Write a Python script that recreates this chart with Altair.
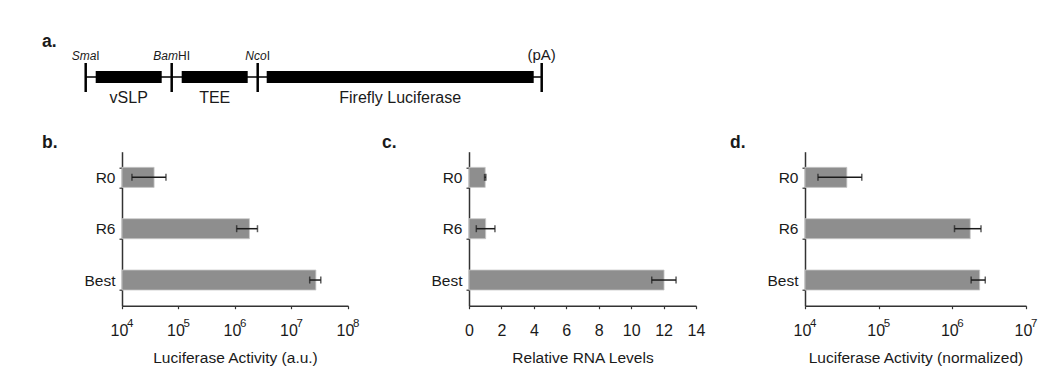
import altair as alt
import pandas as pd

FONT = "Liberation Sans"
INK = "#1a1a1a"
AXIS = "#333333"
BAR = "#8e8e8e"

# ---------------- data ----------------
categories = ["R0", "R6", "Best"]

lucif_mean = [3.7e4, 1.8e6, 2.7e7]
lucif_lo = [1.5e4, 1.07e6, 2.1e7]
lucif_hi = [6.0e4, 2.5e6, 3.3e7]

rna_mean = [1.0, 1.03, 12.03]
rna_lo = [0.96, 0.45, 11.27]
rna_hi = [1.04, 1.6, 12.77]

norm_mean = [3.7e4, 1.75e6, 2.35e6]
norm_lo = [1.5e4, 1.07e6, 1.8e6]
norm_hi = [5.9e4, 2.45e6, 2.8e6]

log_ticks_b = [1e4, 1e5, 1e6, 1e7, 1e8]
log_exp_b = ["4", "5", "6", "7", "8"]
log_ticks_d = [1e4, 1e5, 1e6, 1e7]
log_exp_d = ["4", "5", "6", "7"]
lin_ticks_c = [0, 2, 4, 6, 8, 10, 12, 14]

panel_letters = ["a.", "b.", "c.", "d."]

site_italic = ["Sma", "Bam", "Nco", ""]
site_plain = ["I", "HI", "I", "(pA)"]
site_pos = [0, 86, 172, 456]
element_names = ["vSLP", "TEE", "Firefly Luciferase"]
element_start = [10, 96, 181]
element_end = [76, 162, 448]

# approximate Arial advance widths (per 1000 em) for label centring
W = {"S": 667, "m": 833, "a": 556, "B": 667, "N": 722, "c": 500, "o": 556,
     "I": 278, "H": 722, "(": 333, "p": 556, "A": 667, ")": 333}


def tw(s, fs):
    return sum(W.get(ch, 556) for ch in s) * fs / 1000.0


PH = 154

Y_AXIS = alt.Axis(tickBand="extent", tickSize=3, labelFontSize=15.5, labelPadding=4,
                  labelColor=INK, domainColor=AXIS, tickColor=AXIS,
                  domainWidth=1.5, tickWidth=1.2, labelFont=FONT, title=None)


def letter_layer(letter, dx, dy):
    return alt.Chart(pd.DataFrame({"t": [letter]})).mark_text(
        align="left", baseline="alphabetic", fontSize=17.5, fontWeight="bold",
        color=INK, font=FONT
    ).encode(x=alt.value(dx), y=alt.value(dy), text="t:N")


def panel(mean, lo, hi, scale, base_val, axis, letter, letter_dx, width,
          ticks=None, exps=None):
    df = pd.DataFrame({"cat": categories, "mean": mean, "lo": lo, "hi": hi})
    base = alt.Chart(df)
    yenc = alt.Y("cat:N", sort=categories, title=None,
                 scale=alt.Scale(paddingInner=0.61, paddingOuter=0.305), axis=Y_AXIS)
    bars = base.mark_bar(color=BAR, stroke="#c8c8c8", strokeWidth=0.8).encode(
        x=alt.X("mean:Q", scale=scale, axis=axis),
        x2=alt.datum(base_val),
        y=yenc,
    )
    rule = base.mark_rule(color=INK, strokeWidth=1.5).encode(
        x=alt.X("lo:Q", scale=scale, axis=axis), x2="hi:Q", y=yenc)
    t_lo = base.mark_tick(color=INK, size=7, thickness=1.5).encode(
        x=alt.X("lo:Q", scale=scale, axis=axis), y=yenc)
    t_hi = base.mark_tick(color=INK, size=7, thickness=1.5).encode(
        x=alt.X("hi:Q", scale=scale, axis=axis), y=yenc)
    layers = [bars, rule, t_lo, t_hi]
    if ticks is not None:
        tdf = pd.DataFrame({"v": ticks, "e": exps})
        sup = alt.Chart(tdf).mark_text(
            align="left", baseline="alphabetic", dx=5, fontSize=11.5, color=INK, font=FONT
        ).encode(x=alt.X("v:Q", scale=scale, axis=axis), y=alt.value(PH + 21), text="e:N")
        layers.append(sup)
    layers.append(letter_layer(letter, letter_dx, -4))
    return alt.layer(*layers).properties(width=width, height=PH)


def x_axis(values, title, label_expr=None):
    kw = dict(values=values, title=title, tickSize=3, labelFontSize=16, labelPadding=13.5,
              labelColor=INK, domainColor=AXIS, tickColor=AXIS, domainWidth=1.5,
              tickWidth=1.2, titleFontSize=15.5, titleFontWeight="normal",
              titleColor=INK, titlePadding=12.5, grid=False, labelFlush=False,
              labelOverlap=False, labelFont=FONT, titleFont=FONT)
    if label_expr is not None:
        kw["labelExpr"] = label_expr
        kw["labelOffset"] = -3
    return alt.Axis(**kw)


scale_b = alt.Scale(type="log", domain=[log_ticks_b[0], log_ticks_b[-1]], nice=False)
scale_c = alt.Scale(domain=[lin_ticks_c[0], lin_ticks_c[-1]], nice=False)
scale_d = alt.Scale(type="log", domain=[log_ticks_d[0], log_ticks_d[-1]], nice=False)

panel_b = panel(lucif_mean, lucif_lo, lucif_hi, scale_b, log_ticks_b[0],
                x_axis(log_ticks_b, "Luciferase Activity (a.u.)", "'10'"),
                panel_letters[1], -80, 226, log_ticks_b, log_exp_b)
panel_c = panel(rna_mean, rna_lo, rna_hi, scale_c, lin_ticks_c[0],
                x_axis(lin_ticks_c, "Relative RNA Levels"),
                panel_letters[2], -87, 227)
panel_d = panel(norm_mean, norm_lo, norm_hi, scale_d, log_ticks_d[0],
                x_axis(log_ticks_d, "Luciferase Activity (normalized)", "'10'"),
                panel_letters[3], -75, 221, log_ticks_d, log_exp_d)

# ---------------- construct diagram ----------------
DH = 29
D_LEFT = -36.3   # diagram starts left of panel b's y axis
dscale = alt.Scale(domain=[site_pos[0], site_pos[-1]], range=[D_LEFT, D_LEFT + 456],
                   nice=False, zero=False)
sites = pd.DataFrame({"pos": site_pos, "ital": site_italic, "plain": site_plain})
elems = pd.DataFrame({"name": element_names, "start": element_start, "end": element_end})

backbone = alt.Chart(sites).transform_aggregate(
    lo="min(pos)", hi="max(pos)"
).mark_rule(color="black", strokeWidth=1.5).encode(
    x=alt.X("lo:Q", scale=dscale, axis=None), x2="hi:Q", y=alt.value(14))
site_ticks = alt.Chart(sites).mark_rule(color="black", strokeWidth=2.5).encode(
    x=alt.X("pos:Q", scale=dscale, axis=None), y=alt.value(0), y2=alt.value(DH))
boxes = alt.Chart(elems).mark_rect(color="black").encode(
    x=alt.X("start:Q", scale=dscale, axis=None), x2="end:Q",
    y=alt.value(8), y2=alt.value(20))
elem_labels = alt.Chart(elems).transform_calculate(
    mid="(datum.start + datum.end) / 2"
).mark_text(fontSize=16, baseline="alphabetic", color=INK, font=FONT).encode(
    x=alt.X("mid:Q", scale=dscale, axis=None), y=alt.value(39.5), text="name:N")

diag_layers = [backbone, site_ticks, boxes, elem_labels]
for i, p in enumerate(site_pos):
    fs_it = 12
    fs_pl = 12 if site_italic[i] else 15
    w_it = tw(site_italic[i], fs_it)
    w_pl = tw(site_plain[i], fs_pl)
    split = -(w_it + w_pl) / 2 + w_it
    src = alt.Chart(sites).transform_filter(alt.datum.pos == p)
    if site_italic[i]:
        diag_layers.append(src.mark_text(
            align="right", baseline="alphabetic", dx=split, fontSize=fs_it,
            fontStyle="italic", color=INK, font=FONT
        ).encode(x=alt.X("pos:Q", scale=dscale, axis=None), y=alt.value(-3), text="ital:N"))
    diag_layers.append(src.mark_text(
        align="left", baseline="alphabetic", dx=split, fontSize=fs_pl,
        color=INK, font=FONT
    ).encode(x=alt.X("pos:Q", scale=dscale, axis=None), y=alt.value(-3), text="plain:N"))
diag_layers.append(letter_layer(panel_letters[0], -80, -16.5))

diagram = alt.layer(*diag_layers).properties(width=420, height=DH)

row = alt.hconcat(
    panel_b,
    alt.hconcat(panel_c, panel_d, spacing=109, bounds="flush"),
    spacing=121, bounds="flush",
)

chart = alt.vconcat(diagram, row, spacing=59.7, bounds="flush").properties(
    padding={"left": 34, "top": 24, "right": 0, "bottom": 0},
    background="white",
).configure(font=FONT).configure_view(strokeWidth=0)

chart.save("out.html", embed_options={"renderer": "svg", "actions": False})
